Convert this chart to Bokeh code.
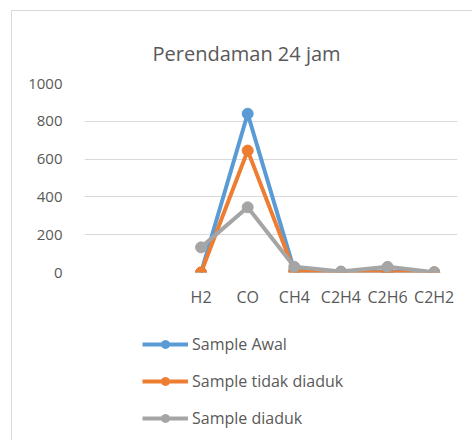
from bokeh.plotting import figure
from bokeh.layouts import column
from bokeh.models import FactorRange, FixedTicker, Legend, LegendItem, ColumnDataSource, Range1d
from bokeh.embed import file_html
from bokeh.resources import INLINE

slots = ["", " "]
gases = ["H2", "CO", "CH4", "C2H4", "C2H6", "C2H2"]
sample_awal = [0, 840, 10, 2, 5, 0]
sample_tidak_diaduk = [0, 645, 5, 3, 0, 1]
sample_diaduk = [133, 345, 30, 5, 30, 1]
y_ticks = [0, 200, 400, 600, 800, 1000]

series = [
    ("Sample Awal", sample_awal, "#5B9BD5"),
    ("Sample tidak diaduk", sample_tidak_diaduk, "#ED7D31"),
    ("Sample diaduk", sample_diaduk, "#A5A5A5"),
]

FONT = "Open Sans"
TXT = "#595959"

p = figure(width=460, height=300, output_backend="svg", toolbar_location=None,
           x_range=FactorRange(*(slots + gases), range_padding=0),
           y_range=Range1d(0, 1000),
           min_border_left=72, min_border_right=15, min_border_top=72, min_border_bottom=39,
           title="Perendaman 24 jam")

p.title.align = "left"
p.title.vertical_align = "top"
p.title.offset = 68
p.title.standoff = 30
p.title.text_font = FONT
p.title.text_font_size = "20px"
p.title.text_font_style = "normal"
p.title.text_color = TXT

p.outline_line_color = None
p.xgrid.grid_line_color = None
p.ygrid.grid_line_color = "#D9D9D9"
p.ygrid.grid_line_width = 1

p.yaxis.ticker = FixedTicker(ticks=y_ticks)
for ax in (p.xaxis[0], p.yaxis[0]):
    ax.axis_line_color = None
    ax.major_tick_line_color = None
    ax.minor_tick_line_color = None
    ax.major_label_text_font = FONT
    ax.major_label_text_color = TXT
p.yaxis.major_label_text_font_size = "15px"
p.yaxis.major_label_standoff = 16
p.xaxis.major_label_text_font_size = "16px"
p.xaxis.major_label_standoff = 7

# legend panel (separate canvas so the legend is not clipped by the plot frame);
# its y range is set far above the data so its renderers stay out of view
pl = figure(width=460, height=129, output_backend="svg", toolbar_location=None,
            x_axis_type=None, y_axis_type=None, min_border=0,
            x_range=FactorRange(*(slots + gases), range_padding=0),
            y_range=Range1d(5000, 6000))
pl.outline_line_color = None
pl.xgrid.grid_line_color = None
pl.ygrid.grid_line_color = None

items = []
for name, vals, col in series:
    src = ColumnDataSource(dict(x=gases, y=vals))
    p.line("x", "y", source=src, line_color=col, line_width=4)
    p.scatter("x", "y", source=src, size=11, fill_color=col, line_color=col)
    l1 = pl.line("x", "y", source=src, line_color=col, line_width=4)
    l2 = pl.scatter("x", "y", source=src, size=11, fill_color=col, line_color=col)
    items.append(LegendItem(label=name, renderers=[l1, l2]))

legend = Legend(items=items, location=(58, 11), orientation="vertical",
                glyph_width=46, glyph_height=20, label_height=20, spacing=15,
                label_standoff=4, padding=0, margin=0,
                border_line_color=None, background_fill_alpha=0,
                label_text_font=FONT, label_text_font_size="16px", label_text_color=TXT)
pl.add_layout(legend, "center")

layout = column(p, pl, spacing=0)
layout.styles = {"margin-left": "11px", "margin-top": "10px",
                 "border-left": "1px solid #D9D9D9", "border-top": "1px solid #D9D9D9"}

open("out.html", "w").write(file_html(layout, INLINE))
